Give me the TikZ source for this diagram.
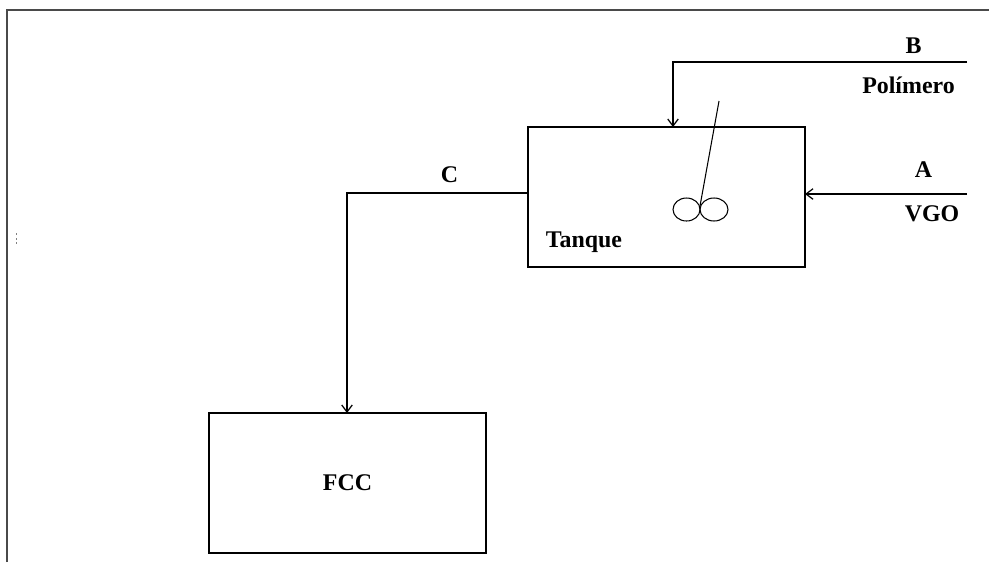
\documentclass[tikz,border=0pt]{standalone}
\usepackage{fontspec}
\setmainfont{Liberation Serif}
\usetikzlibrary{positioning, arrows.meta}
\definecolor{framegray}{HTML}{4A4A4A}

\begin{document}
\begin{tikzpicture}[x=0.02cm, y=-0.02cm, line width=0.7pt,
    unit/.style={draw, minimum width=5.54cm, minimum height=2.8cm, inner sep=0pt, outer sep=0pt},
    lbl/.style={font=\fontsize{13.6}{16}\selectfont\bfseries, inner sep=0pt, anchor=base},
    flow/.style={-{Straight Barb[length=4pt, width=6pt]}}]
    \useasboundingbox (0,0) rectangle (989,562);
    % page frame
    \draw[framegray, line width=1.1pt] (7,562) -- (7,10) -- (989,10);
    \foreach \y in {233,238,242}{\fill[gray] (15.5,\y) rectangle (17,\y+1.5);}
    % units
    \node[unit] (tanque) at (666.5,197) {};
    \node[unit, lbl, anchor=center] (fcc) at (347.5,483) {FCC};
    \node[lbl] (tanque label) at (584,247) {Tanque};
    % agitator
    \draw[line width=0.6pt] (719,101) -- (700,206);
    \draw[line width=0.6pt] (686.5,209.5) ellipse [x radius=13.5, y radius=11.5];
    \draw[line width=0.6pt] (714,209.5) ellipse [x radius=14, y radius=11.5];
    % streams
    \coordinate (b in) at (967,62);
    \coordinate (b turn) at (673,62);
    \coordinate (a in) at (967,194);
    \coordinate (c turn) at (347,193);
    \draw[flow] (b in) -- (b turn) -- (b turn |- tanque.north);
    \draw[flow] (a in) -- (a in -| tanque.east);
    \draw[flow] (c turn -| tanque.west) -- (c turn) -- (c turn |- fcc.north);
    \node[lbl] (b label) at (913.5,53) {B};
    \node[lbl] (polimero) at (908.5,93) {Polímero};
    \node[lbl] (a label) at (923.5,177) {A};
    \node[lbl] (vgo) at (932,221) {VGO};
    \node[lbl] (c label) at (449.5,182) {C};
\end{tikzpicture}
\end{document}
